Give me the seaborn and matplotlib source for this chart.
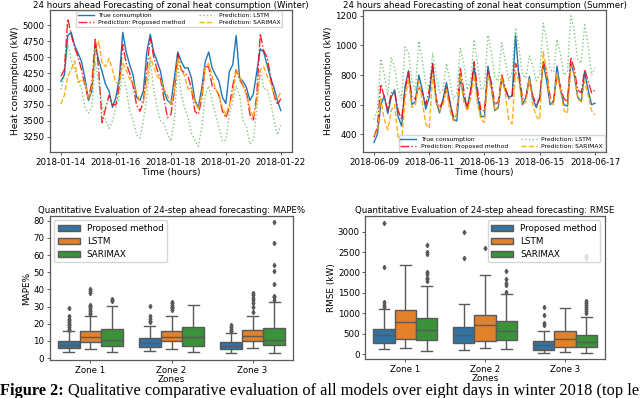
import pandas as pd
import matplotlib
matplotlib.use("Agg")
import matplotlib.pyplot as plt
import matplotlib.dates as mdates
import seaborn as sns

# ---- time series (3-hourly readings, kW) ----
winter_start = "2018-01-14"
summer_start = "2018-06-09"
winter_ticks = ["2018-01-14", "2018-01-16", "2018-01-18", "2018-01-20", "2018-01-22"]
summer_ticks = ["2018-06-09", "2018-06-11", "2018-06-13", "2018-06-15", "2018-06-17"]

winter_true = [4120, 4220, 4840, 4890, 4680, 4560, 4430, 4170,
               3820, 3970, 4680, 4450, 4270, 4070, 3970, 3710,
               3870, 4170, 4890, 4580, 4380, 4220, 3870, 3820,
               3970, 4580, 4860, 4580, 4430, 4270, 3970, 3820,
               3770, 4170, 4580, 4430, 4330, 4330, 4170, 3820,
               3710, 4020, 4430, 4580, 4330, 4220, 4120, 3870,
               3770, 4270, 4380, 4840, 4170, 4120, 4020, 3820,
               3920, 4270, 4630, 4580, 4380, 4170, 4020, 3820,
               3660]
winter_proposed = [4200, 4300, 5100, 4850, 4650, 4500, 4300, 4050,
                   3850, 4100, 4800, 4300, 3470, 3700, 3900, 3750,
                   3750, 4050, 4700, 4400, 4250, 4050, 3750, 3650,
                   3800, 4300, 4800, 4500, 4300, 4150, 3850, 3550,
                   3600, 3950, 4550, 4300, 4250, 4200, 4000, 3650,
                   3600, 3850, 4350, 4350, 4050, 4000, 3900, 3650,
                   3550, 3700, 4050, 4300, 4150, 4050, 3950, 3600,
                   3500, 3900, 4870, 4600, 4500, 4200, 3900, 3750,
                   3850]
winter_lstm = [3990, 4200, 4700, 4450, 4300, 4150, 4000, 3700,
               3620, 3700, 4430, 4100, 3750, 3500, 3380, 3500,
               3700, 3900, 4250, 4000, 3650, 3500, 3280, 3230,
               3500, 3900, 4450, 4000, 3700, 3500, 3450, 3300,
               3180, 3500, 4400, 3900, 3700, 3550, 3300, 3200,
               3100, 3400, 3900, 4050, 3800, 3600, 3400, 3180,
               3200, 3600, 3800, 4050, 3900, 3500, 3400, 3130,
               3200, 3700, 4300, 4000, 4000, 3800, 3500, 3280,
               3430]
winter_sarimax = [3760, 3900, 4200, 4300, 4440, 4100, 4150, 4100,
                  3850, 4000, 4600, 4750, 4400, 4350, 4480, 4300,
                  4100, 4100, 4400, 4300, 4150, 4100, 3950, 3800,
                  3800, 4100, 4500, 4350, 4200, 4150, 4000, 3900,
                  3750, 3950, 4480, 4300, 4200, 4000, 4000, 3800,
                  3680, 3900, 4350, 4400, 4200, 4000, 3900, 3700,
                  3600, 3750, 3900, 4300, 4200, 4050, 3900, 3700,
                  3550, 3800, 4300, 4350, 4200, 4100, 3900, 3850,
                  3950]

summer_true = [345, 400, 600, 660, 540, 650, 700, 520,
               455, 720, 830, 600, 620, 800, 700, 570,
               650, 880, 620, 545, 640, 750, 620, 500,
               490, 780, 650, 580, 700, 860, 650, 520,
               520, 860, 720, 560, 580, 780, 700, 650,
               660, 1070, 780, 600, 650, 790, 640, 580,
               650, 880, 760, 600, 620, 860, 700, 600,
               590, 880, 800, 650, 620, 820, 700, 600,
               610]
summer_proposed = [380, 450, 740, 650, 560, 680, 680, 560,
                   500, 700, 820, 650, 640, 720, 680, 600,
                   700, 870, 640, 580, 620, 720, 600, 520,
                   540, 850, 700, 560, 680, 890, 700, 560,
                   560, 830, 750, 600, 620, 800, 720, 640,
                   660, 880, 820, 640, 650, 760, 660, 600,
                   640, 900, 820, 650, 620, 800, 720, 640,
                   620, 920, 840, 700, 680, 840, 760, 680,
                   700]
summer_lstm = [500, 560, 910, 800, 660, 920, 850, 700,
               640, 990, 950, 760, 700, 1030, 900, 740,
               720, 950, 800, 680, 700, 880, 760, 640,
               680, 980, 880, 700, 760, 1040, 880, 700,
               720, 1070, 950, 780, 760, 1020, 900, 760,
               820, 1120, 980, 800, 780, 930, 860, 760,
               800, 1150, 1040, 840, 820, 1040, 940, 800,
               820, 1200, 1100, 900, 880, 1140, 1000, 800,
               850]
summer_sarimax = [390, 420, 640, 500, 430, 560, 600, 380,
                  330, 640, 770, 580, 600, 760, 620, 470,
                  440, 800, 620, 560, 600, 700, 560, 490,
                  540, 800, 620, 560, 640, 800, 600, 500,
                  480, 800, 700, 560, 590, 790, 680, 500,
                  470, 820, 760, 600, 620, 780, 600, 520,
                  500, 960, 820, 620, 600, 820, 700, 560,
                  540, 860, 800, 640, 620, 760, 660, 560,
                  530]

# ---- box plot summaries (order: zone 1..3, each Proposed/LSTM/SARIMAX) ----
zones = ["Zone 1", "Zone 2", "Zone 3"]
models = ["Proposed method", "LSTM", "SARIMAX"]

mape_low = [3.3, 5.3, 3.7, 4.3, 5.3, 3.3, 2.9, 5.7, 2.7]
mape_q1 = [5.7, 9.6, 6.8, 6.2, 10.1, 7.2, 5.3, 9.8, 7.8]
mape_med = [7.6, 12.1, 10.7, 8.6, 12.1, 12.1, 7.2, 12.7, 10.7]
mape_q3 = [9.8, 15.6, 17.0, 11.9, 16.0, 18.3, 9.2, 16.4, 17.8]
mape_high = [15.8, 24.5, 30.6, 18.9, 24.8, 31.2, 14.6, 24.8, 32.6]
mape_fliers = [[16.5, 17, 18, 19, 20, 21, 22, 23, 24.5, 29],
               [25.5, 26.5, 27.5, 28.5, 29.5, 30.5, 31, 38, 39, 40.5],
               [33, 34, 34.5],
               [20.8, 21.8, 23, 24.5, 30.5],
               [28, 29, 29.5, 30, 31, 32, 32.5],
               [],
               [15.5, 16, 17, 18, 19],
               [27, 30, 32, 34, 35, 36.5, 38],
               [34, 35.5, 36, 43, 51, 54.5, 67, 79]]
mape_ticks = [0, 10, 20, 30, 40, 50, 60, 70, 80]

rmse_low = [120, 140, 80, 90, 150, 130, 40, 60, 40]
rmse_q1 = [269, 367, 350, 270, 320, 350, 110, 180, 180]
rmse_med = [470, 790, 595, 480, 720, 560, 230, 380, 290]
rmse_q3 = [620, 1090, 880, 660, 970, 800, 320, 560, 480]
rmse_high = [1093, 2170, 1660, 1230, 1940, 1470, 560, 1125, 920]
rmse_fliers = [[1160, 1200, 1270, 2130, 3220],
               [],
               [1800, 1830, 1870, 1950, 2000, 2450, 2500, 2680],
               [2350, 3000],
               [2590],
               [1520, 1700, 1750, 1830, 2030],
               [720, 760, 960, 1150],
               [],
               [1000, 1050, 1100, 1150, 1200, 1250, 1300, 2350, 2400]]


def box_sample(lo, q1, med, q3, hi, fliers):
    # sample whose quartiles / whiskers reproduce the read-off summary
    k = len(fliers) + 1
    return [lo] + [q1] * k + [med] * k + [q3] * k + [hi] + list(fliers)


def box_frame(low, q1, med, q3, high, fliers):
    rows = []
    i = 0
    for z in zones:
        for m in models:
            for v in box_sample(low[i], q1[i], med[i], q3[i], high[i], fliers[i]):
                rows.append({"zone": z, "model": m, "value": v})
            i += 1
    return pd.DataFrame(rows)


mape_df = box_frame(mape_low, mape_q1, mape_med, mape_q3, mape_high, mape_fliers)
rmse_df = box_frame(rmse_low, rmse_q1, rmse_med, rmse_q3, rmse_high, rmse_fliers)

plt.rcParams["font.family"] = "DejaVu Sans"
plt.rcParams["axes.linewidth"] = 0.9
plt.rcParams["axes.edgecolor"] = "0.35"
plt.rcParams["xtick.major.size"] = 2.5
plt.rcParams["ytick.major.size"] = 2.5
plt.rcParams["xtick.major.width"] = 0.7
plt.rcParams["ytick.major.width"] = 0.7
plt.rcParams["xtick.color"] = "0.35"
plt.rcParams["ytick.color"] = "0.35"
plt.rcParams["xtick.labelcolor"] = "black"
plt.rcParams["ytick.labelcolor"] = "black"

fig = plt.figure(figsize=(6.4, 3.98), dpi=100)
ax1 = fig.add_axes([0.078, 0.618, 0.378, 0.357])
ax2 = fig.add_axes([0.567, 0.618, 0.380, 0.357])
ax3 = fig.add_axes([0.078, 0.0955, 0.380, 0.362])
ax4 = fig.add_axes([0.571, 0.098, 0.374, 0.359])


def forecast_panel(ax, start, true, prop, lstm, sarimax, ticks, title, legend_kw):
    t = pd.date_range(start, periods=len(true), freq="3h")
    sns.lineplot(x=t, y=true, ax=ax, color="#1f77b4", lw=1.0, label="True consumption")
    sns.lineplot(x=t, y=prop, ax=ax, color="red", lw=1.0, alpha=0.85,
                 linestyle="-.", label="Prediction: Proposed method")
    sns.lineplot(x=t, y=lstm, ax=ax, color="#2ca02c", lw=1.0, alpha=0.6,
                 linestyle=":", label="Prediction: LSTM")
    sns.lineplot(x=t, y=sarimax, ax=ax, color="orange", lw=1.0, alpha=0.9,
                 linestyle="--", label="Prediction: SARIMAX")
    ax.set_xticks(pd.to_datetime(ticks))
    ax.xaxis.set_major_formatter(mdates.DateFormatter("%Y-%m-%d"))
    ax.tick_params(labelsize=6.2, pad=1.5)
    ax.set_title(title, fontsize=6.2, pad=1.0)
    ax.set_xlabel("Time (hours)", fontsize=6.6, labelpad=1)
    ax.set_ylabel("Heat consumption (kW)", fontsize=6.6, labelpad=2)
    ax.legend(ncol=2, fontsize=4.3, handlelength=2.6, columnspacing=2.2,
              labelspacing=0.25, borderpad=0.3, **legend_kw)


forecast_panel(ax1, winter_start, winter_true, winter_proposed, winter_lstm, winter_sarimax,
               winter_ticks, "24 hours ahead Forecasting of zonal heat consumption (Winter)",
               dict(loc="upper center", bbox_to_anchor=(0.535, 1.0), borderaxespad=0.25))
ax1.set_ylim(3010, 5240)
ax1.set_yticks([3250, 3500, 3750, 4000, 4250, 4500, 4750, 5000])

forecast_panel(ax2, summer_start, summer_true, summer_proposed, summer_lstm, summer_sarimax,
               summer_ticks, "24 hours ahead Forecasting of zonal heat consumption (Summer)",
               dict(loc="lower right", borderaxespad=0.2))
ax2.set_ylim(280, 1240)
ax2.set_yticks([400, 600, 800, 1000, 1200])


def eval_panel(ax, df, title, ylabel, loc):
    sns.boxplot(data=df, x="zone", y="value", hue="model", palette="tab10", ax=ax,
                linecolor="0.35", linewidth=1.0, fliersize=2.2,
                flierprops={"marker": "d", "markerfacecolor": "0.35",
                            "markeredgecolor": "0.35"})
    ax.set_title(title, fontsize=6.2, pad=2)
    ax.set_xlabel("Zones", fontsize=6.4, labelpad=0.5)
    ax.set_ylabel(ylabel, fontsize=6.4, labelpad=1.5)
    ax.tick_params(labelsize=6.2, pad=1.5)
    sns.move_legend(ax, loc, title=None, fontsize=6.3, handlelength=2.5,
                    borderpad=0.4, labelspacing=0.45)


eval_panel(ax3, mape_df, "Quantitative Evaluation of 24-step ahead forecasting: MAPE%",
           "MAPE%", "upper left")
ax3.set_yticks(mape_ticks)
eval_panel(ax4, rmse_df, "Quantitative Evaluation of 24-step ahead forecasting: RMSE",
           "RMSE (kW)", "upper right")

# caption fragment, cut by the page edges as in the source
cap_y = 0.008
cap1 = fig.text(0.0, cap_y, "Figure 2:", fontsize=11.8, fontweight="bold",
                family="Liberation Serif", va="baseline")
fig.canvas.draw()
bb = cap1.get_window_extent()
fig.text(bb.x1 / fig.bbox.width + 0.007, cap_y,
         "Qualitative comparative evaluation of all models over eight days in winter 2018 (top left),",
         fontsize=11.8, family="Liberation Serif", va="baseline")

fig.savefig("out.png", dpi=100)
plt.close()
